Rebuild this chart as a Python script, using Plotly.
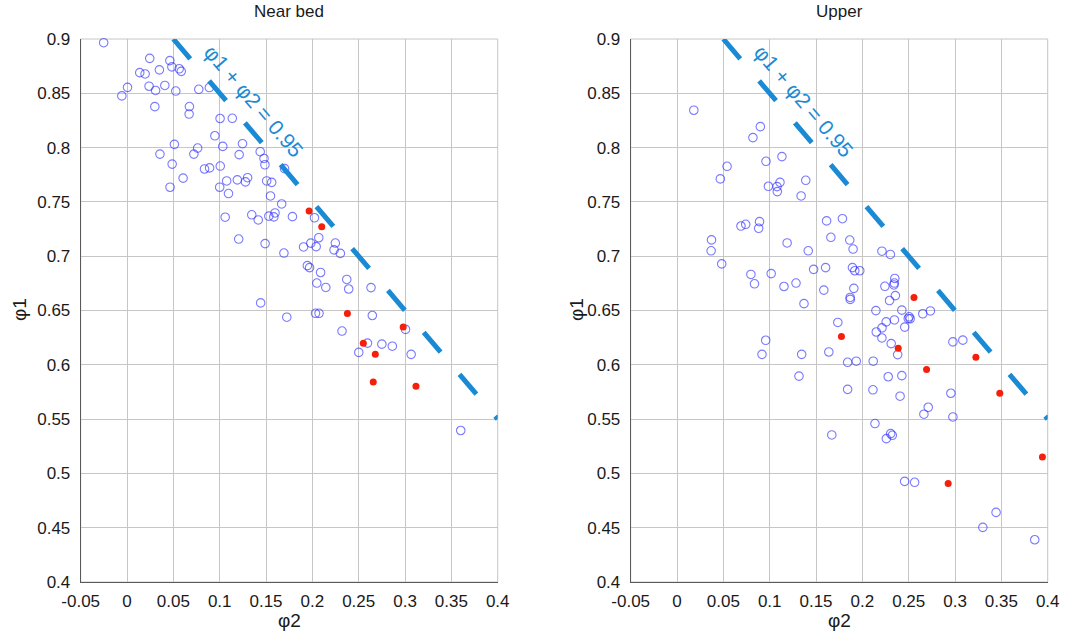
import plotly.graph_objects as go

# ---- data -------------------------------------------------------------
near_blue_phi2 = [-0.0252, -0.0056, 0.0005, 0.0137, 0.0195, 0.0245, 0.0238, 0.0308, 0.0300, 0.0349,
                  0.0408, 0.0462, 0.0484, 0.0526, 0.0563, 0.0585, 0.0673, 0.0670, 0.0774, 0.0888,
                  0.0355, 0.0511, 0.0487, 0.0605, 0.0464, 0.0721, 0.0762, 0.0836, 0.0891, 0.0948,
                  0.1004, 0.1033, 0.1006, 0.1000, 0.1136, 0.1075, 0.1095, 0.1059, 0.1190, 0.1210,
                  0.1246, 0.1278, 0.1301, 0.1205, 0.1346, 0.1416, 0.1437, 0.1478, 0.1488, 0.1507,
                  0.1561, 0.1548, 0.1530, 0.1584, 0.1597, 0.1490, 0.1669, 0.1700, 0.1785, 0.1693,
                  0.1442, 0.1724, 0.1905, 0.1983, 0.2023, 0.2041, 0.2069, 0.1946, 0.1970, 0.2089,
                  0.2048, 0.2145, 0.2034, 0.2072, 0.2234, 0.2248, 0.2302, 0.2371, 0.2392, 0.2320,
                  0.2633, 0.2647, 0.2595, 0.2501, 0.2750, 0.2863, 0.3005, 0.3066, 0.3601]
near_blue_phi1 = [0.8966, 0.8476, 0.8555, 0.8690, 0.8678, 0.8822, 0.8565, 0.8526, 0.8377, 0.8716,
                  0.8572, 0.8801, 0.8743, 0.8521, 0.8726, 0.8702, 0.8378, 0.8309, 0.8537, 0.8553,
                  0.7940, 0.8030, 0.7848, 0.7719, 0.7635, 0.7940, 0.7996, 0.7803, 0.7813, 0.8109,
                  0.8268, 0.8011, 0.7830, 0.7635, 0.8270, 0.7693, 0.7577, 0.7359, 0.7703, 0.7935,
                  0.8036, 0.7684, 0.7723, 0.7158, 0.7381, 0.7334, 0.7962, 0.7900, 0.7842, 0.7693,
                  0.7680, 0.7555, 0.7369, 0.7362, 0.7398, 0.7116, 0.7481, 0.7806, 0.7364, 0.7029,
                  0.6570, 0.6438, 0.7085, 0.7120, 0.7354, 0.7088, 0.7170, 0.6913, 0.6895, 0.6850,
                  0.6753, 0.6712, 0.6474, 0.6474, 0.7058, 0.7121, 0.7026, 0.6786, 0.6698, 0.6311,
                  0.6711, 0.6454, 0.6200, 0.6114, 0.6190, 0.6171, 0.6326, 0.6096, 0.5395]
near_red_phi2 = [0.1965, 0.2101, 0.2378, 0.2980, 0.2550, 0.2679, 0.2657, 0.3118]
near_red_phi1 = [0.7417, 0.7271, 0.6472, 0.6347, 0.6199, 0.6098, 0.5842, 0.5803]

upper_blue_phi2 = [0.0181, 0.0467, 0.0540, 0.0372, 0.0368, 0.0482, 0.0690, 0.0741, 0.0890, 0.0881,
                   0.0819, 0.0899, 0.0960, 0.1132, 0.0986, 0.1079, 0.1082, 0.1111, 0.1339, 0.1389,
                   0.1188, 0.1416, 0.1614, 0.1660, 0.1785, 0.1864, 0.1900, 0.0797, 0.0836, 0.1016,
                   0.1154, 0.1284, 0.1474, 0.1603, 0.1584, 0.1370, 0.1893, 0.1918, 0.1972, 0.1908,
                   0.1868, 0.1869, 0.2211, 0.2302, 0.2243, 0.2340, 0.2345, 0.2350, 0.2356, 0.2293,
                   0.2146, 0.2426, 0.2505, 0.2495, 0.2516, 0.2652, 0.2734, 0.2457, 0.2346, 0.2257,
                   0.2212, 0.2150, 0.2211, 0.2311, 0.2381, 0.1735, 0.0957, 0.0917, 0.1345, 0.1638,
                   0.1316, 0.1841, 0.1934, 0.2117, 0.2279, 0.2426, 0.1841, 0.2114, 0.2407, 0.2977,
                   0.3084, 0.2955, 0.2711, 0.2664, 0.2977, 0.2136, 0.1670, 0.2305, 0.2323, 0.2259,
                   0.2456, 0.2564, 0.3443, 0.3300, 0.3860]
upper_blue_phi1 = [0.8344, 0.7712, 0.7828, 0.7150, 0.7050, 0.6929, 0.7278, 0.7294, 0.7318, 0.7257,
                   0.8092, 0.8193, 0.7874, 0.7917, 0.7644, 0.7641, 0.7595, 0.7680, 0.7555, 0.7699,
                   0.7122, 0.7050, 0.7325, 0.7174, 0.7345, 0.7149, 0.7066, 0.6832, 0.6746, 0.6840,
                   0.6721, 0.6753, 0.6879, 0.6895, 0.6688, 0.6563, 0.6895, 0.6866, 0.6866, 0.6704,
                   0.6620, 0.6602, 0.7046, 0.7016, 0.6723, 0.6735, 0.6753, 0.6795, 0.6637, 0.6592,
                   0.6499, 0.6503, 0.6442, 0.6426, 0.6424, 0.6470, 0.6496, 0.6347, 0.6413, 0.6395,
                   0.6340, 0.6302, 0.6247, 0.6195, 0.6094, 0.6390, 0.6226, 0.6096, 0.6096, 0.6118,
                   0.5896, 0.6023, 0.6033, 0.6033, 0.5890, 0.5900, 0.5774, 0.5770, 0.5711, 0.6211,
                   0.6227, 0.5738, 0.5609, 0.5545, 0.5520, 0.5459, 0.5354, 0.5366, 0.5351, 0.5320,
                   0.4927, 0.4918, 0.4641, 0.4503, 0.4389]
upper_red_phi2 = [0.1774, 0.2387, 0.2557, 0.2693, 0.3225, 0.3483, 0.3943, 0.2926]
upper_red_phi1 = [0.6260, 0.6152, 0.6619, 0.5956, 0.6070, 0.5738, 0.5151, 0.4908]

# reference line phi1 + phi2 = 0.95
phi_sum = 0.95
line_phi2 = [0.05, 0.40]
line_phi1 = [phi_sum - v for v in line_phi2]
line_label = "\u03c61 + \u03c62 = 0.95"

x_tick_vals = [-0.05, 0, 0.05, 0.1, 0.15, 0.2, 0.25, 0.3, 0.35, 0.4]
x_tick_text = ["-0.05", "0", "0.05", "0.1", "0.15", "0.2", "0.25", "0.3", "0.35", "0.4"]
y_tick_vals = [0.4, 0.45, 0.5, 0.55, 0.6, 0.65, 0.7, 0.75, 0.8, 0.85, 0.9]
y_tick_text = ["0.4", "0.45", "0.5", "0.55", "0.6", "0.65", "0.7", "0.75", "0.8", "0.85", "0.9"]

panel_titles = ["Near bed", "Upper"]
x_title = "\u03c62"
y_title = "\u03c61"

# ---- styling ----------------------------------------------------------
W, H = 1065, 632
FONT = "Liberation Sans, Arial, sans-serif"
BLUE_RING = "rgba(40,40,255,0.62)"
RED_DOT = "#f4200c"
LINE_BLUE = "#1a8ad4"
GRID = "#c6c6c6"

x_domains = [[80.7 / W, 497.7 / W], [630.7 / W, 1047.7 / W]]
y_domain = [1 - 582 / H, 1 - 39 / H]

fig = go.Figure()

panels = [
    (near_blue_phi2, near_blue_phi1, near_red_phi2, near_red_phi1),
    (upper_blue_phi2, upper_blue_phi1, upper_red_phi2, upper_red_phi1),
]

for i, (bx, by, rx, ry) in enumerate(panels):
    xa = "x" if i == 0 else "x2"
    ya = "y" if i == 0 else "y2"
    fig.add_trace(go.Scatter(
        x=bx, y=by, mode="markers", xaxis=xa, yaxis=ya, showlegend=False,
        marker=dict(symbol="circle-open", size=8.5, color=BLUE_RING, line=dict(width=1.1, color=BLUE_RING)),
        hoverinfo="skip", cliponaxis=False,
    ))
    fig.add_trace(go.Scatter(
        x=rx, y=ry, mode="markers", xaxis=xa, yaxis=ya, showlegend=False,
        marker=dict(symbol="circle", size=7, color=RED_DOT, line=dict(width=0)),
        hoverinfo="skip",
    ))
    fig.add_trace(go.Scatter(
        x=line_phi2, y=line_phi1, mode="lines", xaxis=xa, yaxis=ya, showlegend=False,
        line=dict(color=LINE_BLUE, width=5, dash="26px,29.1px"),
        hoverinfo="skip",
    ))
    fig.add_annotation(
        x=0.136, y=0.843, xref=xa, yref=ya, text=line_label, showarrow=False,
        textangle=49.5, font=dict(family=FONT, size=21, color=LINE_BLUE),
    )
    xc = (x_domains[i][0] + x_domains[i][1]) / 2
    fig.add_annotation(
        x=xc, y=1 - 12 / H, xref="paper", yref="paper", text=panel_titles[i], showarrow=False,
        font=dict(family=FONT, size=17, color="#1a1a1a"), xanchor="center", yanchor="middle",
    )
    fig.add_annotation(
        x=xc, y=1 - 620 / H, xref="paper", yref="paper", text=x_title, showarrow=False,
        font=dict(family=FONT, size=19, color="#1a1a1a"), xanchor="center", yanchor="middle",
    )
    fig.add_annotation(
        x=(20 if i == 0 else 577) / W, y=1 - 310 / H, xref="paper", yref="paper", text=y_title,
        showarrow=False, textangle=-90,
        font=dict(family=FONT, size=19, color="#1a1a1a"), xanchor="center", yanchor="middle",
    )

axis_common = dict(showgrid=True, gridcolor=GRID, gridwidth=1, zeroline=False, showline=True,
                   linecolor="#5a5a5a", linewidth=1, mirror=False, ticks="",
                   tickfont=dict(family=FONT, size=17, color="#1a1a1a"), automargin=False)

for i in range(2):
    sx = "" if i == 0 else "2"
    fig.update_layout({
        f"xaxis{sx}": dict(axis_common, domain=x_domains[i], range=[-0.05, 0.4],
                           tickvals=x_tick_vals, ticktext=x_tick_text, anchor=f"y{sx}",
                           ticklabelstandoff=4),
        f"yaxis{sx}": dict(axis_common, domain=y_domain, range=[0.4, 0.9],
                           tickvals=y_tick_vals, ticktext=y_tick_text, anchor=f"x{sx}",
                           ticklabelstandoff=6),
    })
    # outline the far edges of each panel like the grid
    fig.add_shape(type="rect", xref=f"x{sx} domain", yref=f"y{sx} domain", x0=0, x1=1, y0=0, y1=1,
                  line=dict(color=GRID, width=1), layer="below")

fig.update_layout(
    width=W, height=H, margin=dict(l=0, r=0, t=0, b=0),
    paper_bgcolor="white", plot_bgcolor="white",
    font=dict(family=FONT),
)

fig.write_html("out.html")
